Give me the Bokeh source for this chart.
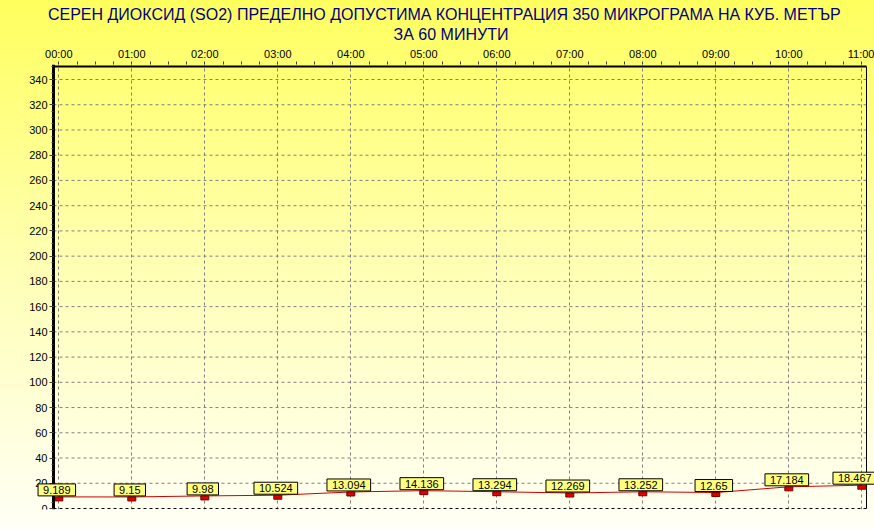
from bokeh.plotting import figure
from bokeh.models import FixedTicker, Title, Label
from bokeh.embed import file_html
from bokeh.resources import INLINE

# ---------------- data ----------------
title_line1 = "СЕРЕН ДИОКСИД  (SO2)  ПРЕДЕЛНО ДОПУСТИМА КОНЦЕНТРАЦИЯ 350 МИКРОГРАМА  НА КУБ. МЕТЪР"
title_line2 = "ЗА 60 МИНУТИ"
hour_labels = ["00:00", "01:00", "02:00", "03:00", "04:00", "05:00",
               "06:00", "07:00", "08:00", "09:00", "10:00", "11:00"]
hours = list(range(12))
so2_values = [9.189, 9.15, 9.98, 10.524, 13.094, 14.136,
              13.294, 12.269, 13.252, 12.65, 17.184, 18.467]
value_labels = ["9.189", "9.15", "9.98", "10.524", "13.094", "14.136",
                "13.294", "12.269", "13.252", "12.65", "17.184", "18.467"]
y_ticks = list(range(0, 341, 20))

# ---------------- layout (page pixels) ----------------
W, H = 874, 529
PX_X0, PX_PER_HOUR = 58.3, 73.0          # where 00:00 sits, hour spacing
PX_Y0, PX_PER_UNIT = 508.0, 429.0 / 340  # where 0 sits, pixels per unit
FRAME_LEFT, FRAME_RIGHT, FRAME_TOP, FRAME_BOTTOM = 27, 874, 64, 509
FONT = "Liberation Sans"
LABEL_FONT_PX = 11


def x_at(px):
    return (px - PX_X0) / PX_PER_HOUR


def y_at(py):
    return (PX_Y0 - py) / PX_PER_UNIT


AXIS_X = x_at(53)      # left axis line
RIGHT_X = x_at(866)    # right border
TOP_Y = y_at(66)       # top border
BOTTOM_Y = 0.0         # bottom border

p = figure(width=W, height=H, output_backend="svg", toolbar_location=None,
           x_range=(x_at(FRAME_LEFT), x_at(FRAME_RIGHT)),
           y_range=(y_at(FRAME_BOTTOM), y_at(FRAME_TOP)),
           x_axis_location="above",
           min_border_left=FRAME_LEFT, min_border_right=W - FRAME_RIGHT,
           min_border_top=FRAME_TOP, min_border_bottom=H - FRAME_BOTTOM)
p.title = None
p.styles = {"background": "linear-gradient(to bottom, #FFFF5E 0%, #FFFFB4 50%, #FFFFF6 100%)"}
p.border_fill_color = None
p.background_fill_color = None
p.outline_line_color = None

# titles (last added is outermost)
t2 = Title(text=title_line2, align="center", text_color="#000080",
           text_font=FONT, text_font_size="16px", text_font_style="normal",
           standoff=3, offset=-14)
t1 = Title(text=title_line1, align="center", text_color="#000080",
           text_font=FONT, text_font_size="16px", text_font_style="normal",
           standoff=0, offset=-14)
p.add_layout(t2, "above")
p.add_layout(t1, "above")

# x axis (top)
minor_x = [h + q / 4 for h in hours[:-1] for q in range(1, 4)]
xa = p.xaxis[0]
xa.ticker = FixedTicker(ticks=hours, minor_ticks=minor_x)
xa.major_label_overrides = {h: lab for h, lab in zip(hours, hour_labels)}
xa.axis_line_color = None
xa.major_tick_in = 0
xa.major_tick_out = 3
xa.minor_tick_in = 0
xa.minor_tick_out = 3
xa.major_tick_line_color = "#404040"
xa.minor_tick_line_color = "#404040"
xa.major_label_standoff = 2
xa.major_label_text_font = FONT
xa.major_label_text_font_size = "11px"
xa.major_label_text_color = "black"

# y axis (left), drawn at the left edge of the chart box
ya = p.yaxis[0]
ya.fixed_location = AXIS_X
ya.ticker = FixedTicker(ticks=y_ticks, minor_ticks=list(range(0, 351, 5)))
ya.axis_line_color = "black"
ya.axis_line_width = 3
ya.major_tick_in = 0
ya.major_tick_out = 4
ya.minor_tick_in = 0
ya.minor_tick_out = 2
ya.major_tick_line_color = "#404040"
ya.minor_tick_line_color = "#404040"
ya.major_label_standoff = 2
ya.major_label_text_font = FONT
ya.major_label_text_font_size = "11px"
ya.major_label_text_color = "black"

# grids
p.xgrid.ticker = FixedTicker(ticks=hours)
p.xgrid.grid_line_color = "#808080"
p.xgrid.grid_line_dash = "3 3"
p.ygrid.visible = False
grid_y = y_ticks[1:]
p.segment(x0=AXIS_X, y0=grid_y, x1=RIGHT_X, y1=grid_y,
          line_color="#808080", line_dash="3 3", line_width=1)

# chart box edges
p.segment(x0=AXIS_X, y0=TOP_Y, x1=RIGHT_X, y1=TOP_Y, line_color="black", line_width=2)
p.segment(x0=RIGHT_X, y0=BOTTOM_Y, x1=RIGHT_X, y1=TOP_Y, line_color="black", line_width=1)
p.segment(x0=AXIS_X, y0=BOTTOM_Y, x1=RIGHT_X, y1=BOTTOM_Y, line_color="black",
          line_dash="3 3", line_width=1)

# data line
p.line(hours, so2_values, line_color="#D00000", line_width=1)

# markers hanging just below each value
marker_y = [v - 2 / PX_PER_UNIT for v in so2_values]
p.rect(x=hours, y=marker_y, width=8, height=4,
       width_units="screen", height_units="screen",
       fill_color="#E00000", line_color="#700000", line_width=1)

# value labels (text nudged left where it would run off the page)
for h, v, s in zip(hours, so2_values, value_labels):
    centre_px = PX_X0 + h * PX_PER_HOUR
    half_text = 0.28 * LABEL_FONT_PX * len(s)
    x_off = min(-2, int(W - 2 - (centre_px + half_text)))
    p.add_layout(Label(x=h, y=v, text=s, text_align="center", text_baseline="bottom",
                       x_offset=x_off, y_offset=1,
                       text_font=FONT, text_font_size=f"{LABEL_FONT_PX}px",
                       text_color="black",
                       background_fill_color="#FFFF80", border_line_color="black",
                       border_line_width=1,
                       padding=dict(left=5, right=5, top=2, bottom=2)))

open("out.html", "w").write(file_html(p, INLINE))
